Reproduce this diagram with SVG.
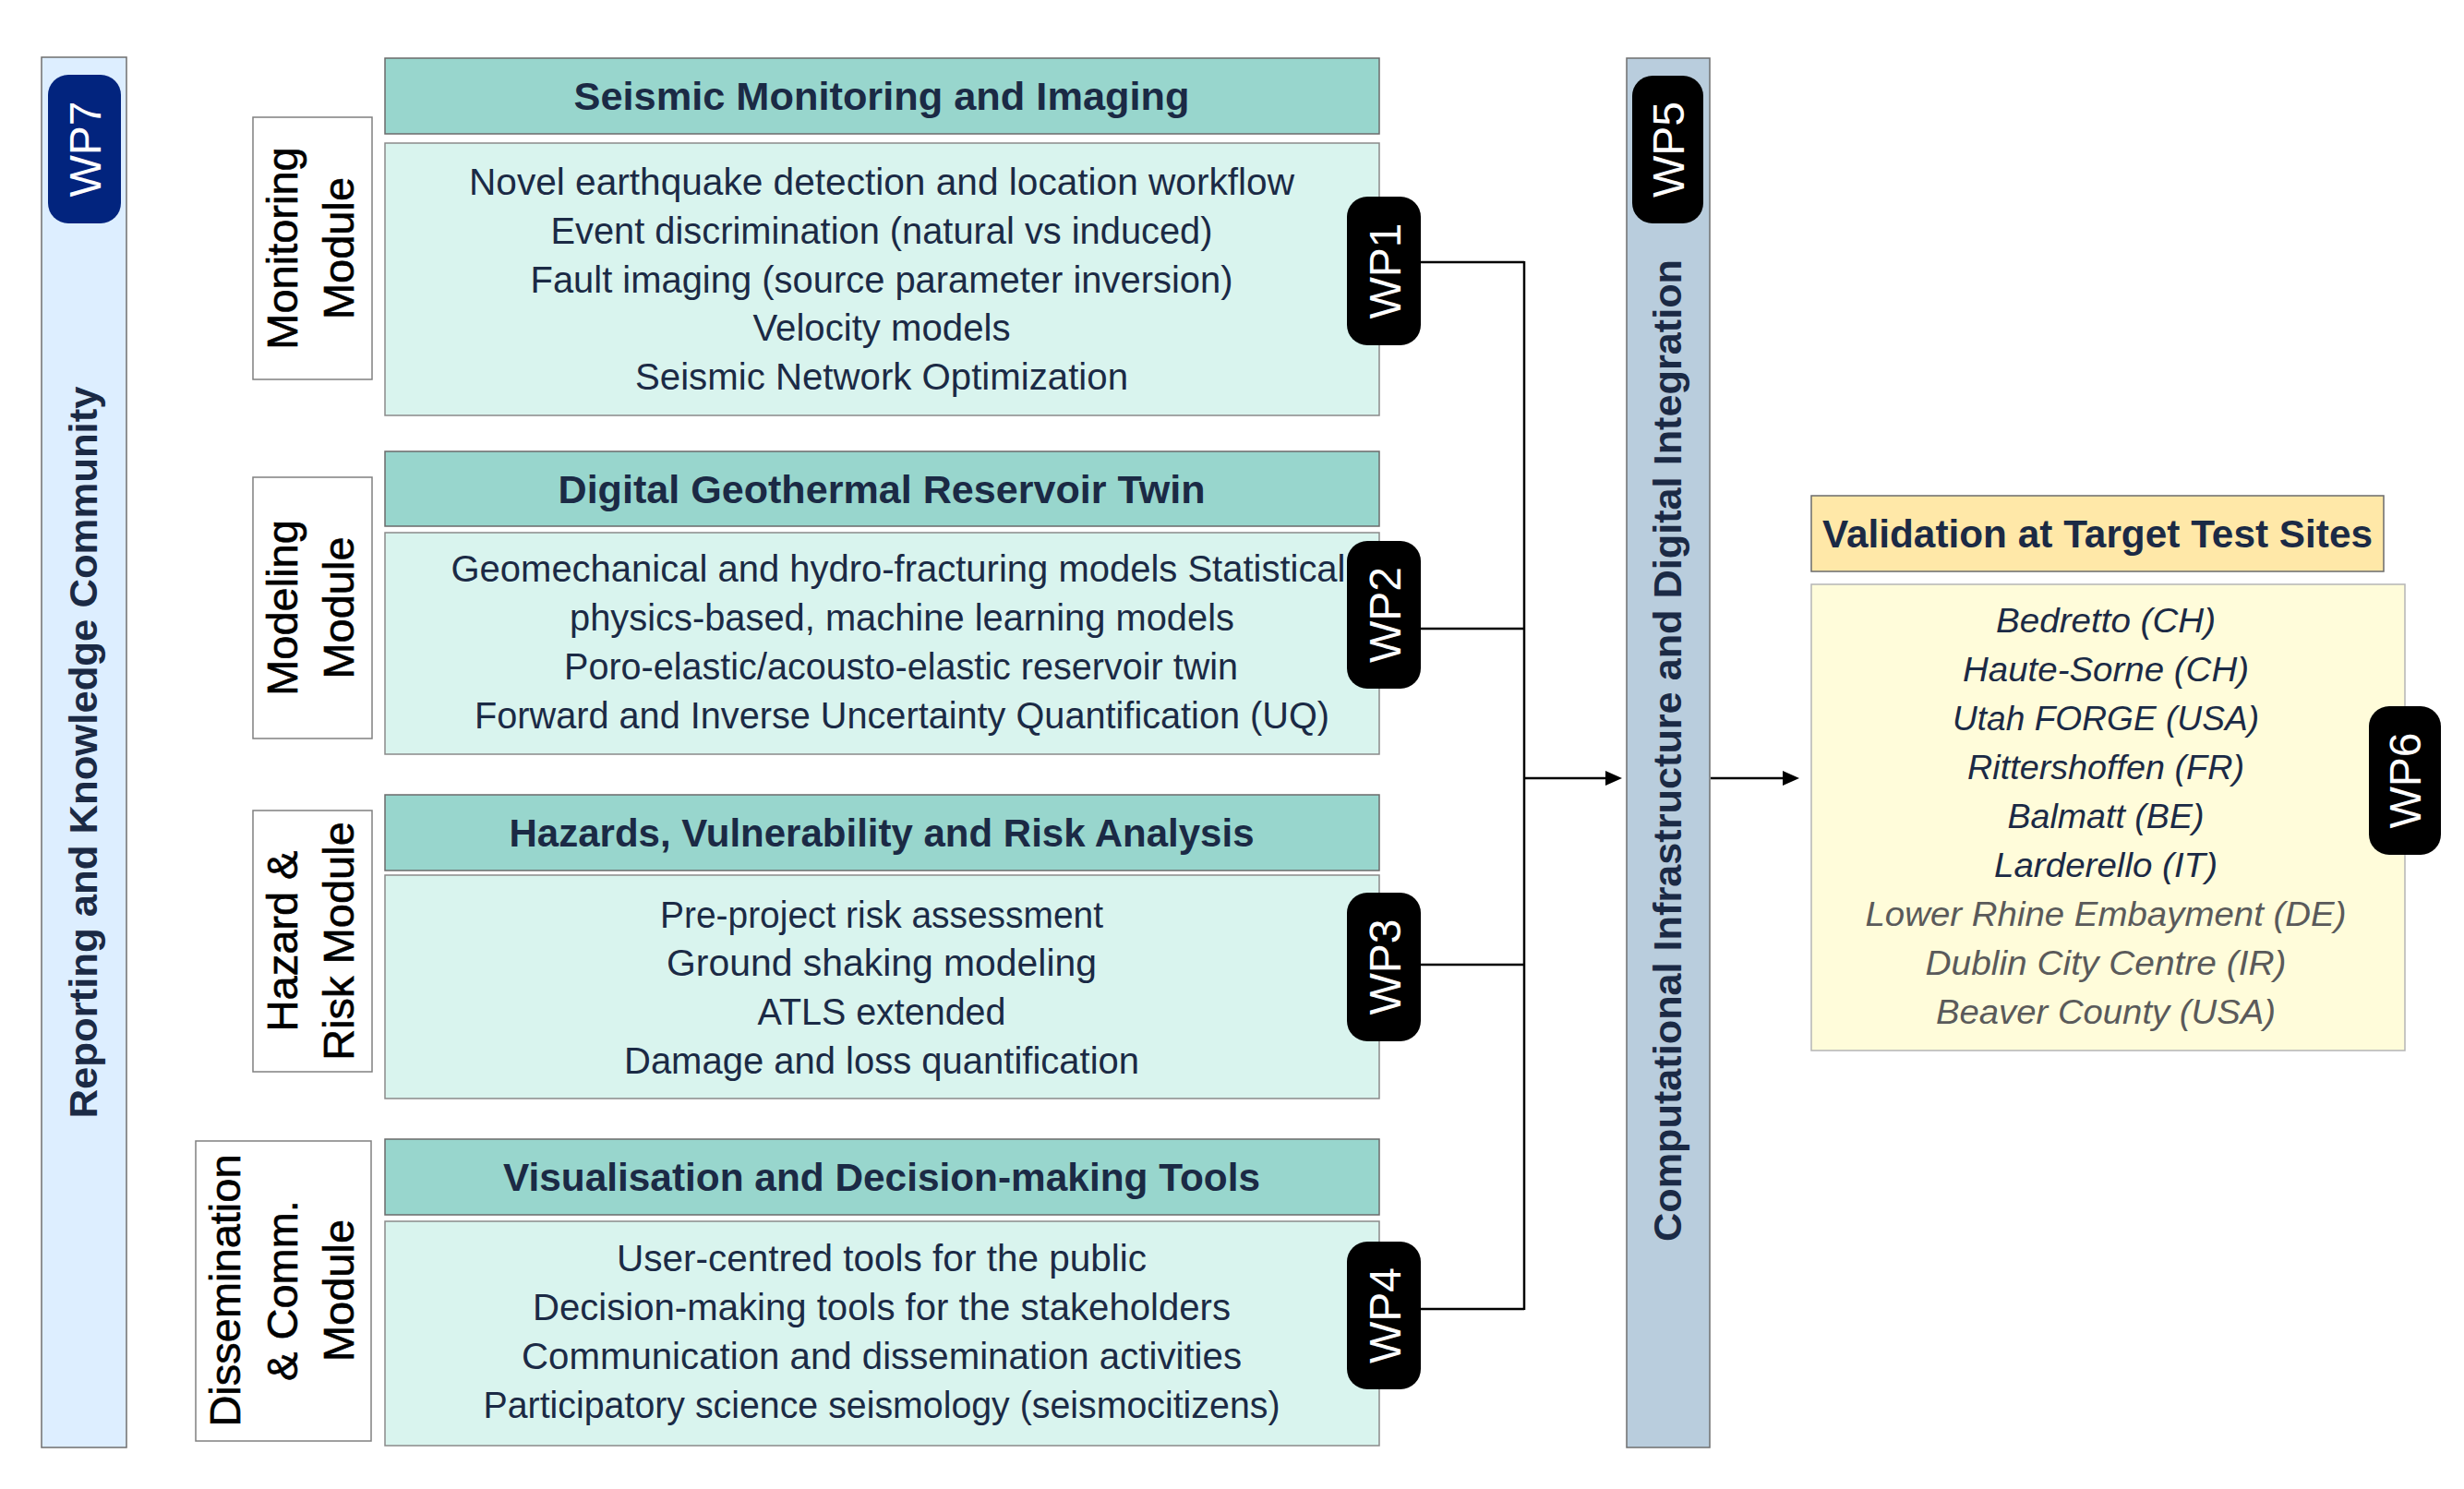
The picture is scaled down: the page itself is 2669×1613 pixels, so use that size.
<svg xmlns="http://www.w3.org/2000/svg" width="2669" height="1613" viewBox="0 0 2669 1613">
  <defs>
    <style>
      .bar7 { fill: #DDEEFF; stroke: #6f6f6f; stroke-width: 1.5; }
      .bar5 { fill: #B9CDDD; stroke: #6f6f6f; stroke-width: 1.5; }
      .hdr { fill: #98D6CD; stroke: #6b6b6b; stroke-width: 1.5; }
      .bdy { fill: #D9F4EE; stroke: #8a8a8a; stroke-width: 1.5; }
      .mod { fill: #FFFFFF; stroke: #808080; stroke-width: 1.5; }
      .vhdr { fill: #FFE8A8; stroke: #6b6b6b; stroke-width: 1.5; }
      .vbdy { fill: #FFFCDA; stroke: #b5b5b5; stroke-width: 1.5; }
      .badge { fill: #000000; }
      .badge7 { fill: #02247E; }
      .wp { font-family: "Liberation Sans", Arial, sans-serif; font-size: 48px; fill: #FFFFFF; text-anchor: middle; }
      .ht { font-family: "Liberation Sans", Arial, sans-serif; font-weight: bold; font-size: 42px; fill: #1B2A45; text-anchor: middle; }
      .bt { font-family: "Liberation Sans", Arial, sans-serif; font-size: 40px; fill: #1B2A45; text-anchor: middle; }
      .ml { font-family: "Liberation Sans", Arial, sans-serif; font-size: 47px; fill: #000000; stroke: #000000; stroke-width: 0.6; text-anchor: middle; }
      .vt { font-family: "Liberation Sans", Arial, sans-serif; font-weight: bold; font-size: 43px; fill: #1B2A45; text-anchor: middle; }
      .st { font-family: "Liberation Sans", Arial, sans-serif; font-style: italic; font-size: 37px; fill: #1B2A45; text-anchor: middle; }
      .sg { fill: #5A5A5A; }
      .conn { fill: none; stroke: #000000; stroke-width: 2.5; }
    </style>
    <marker id="arrow" markerUnits="userSpaceOnUse" markerWidth="18" markerHeight="16" refX="8" refY="8" orient="auto">
      <path d="M0,0 L18,8 L0,16 z" fill="#000000"/>
    </marker>
  </defs>

  <rect width="2669" height="1613" fill="#FFFFFF"/>

  <!-- WP7 reporting bar -->
  <g id="wp7">
    <rect class="bar7" x="45" y="62" width="92" height="1506"/>
    <rect class="badge7" x="52" y="81" width="79" height="161" rx="22"/>
    <text class="wp" transform="translate(109,161.5) rotate(-90)">WP7</text>
    <text class="vt" transform="translate(105,815) rotate(-90)" textLength="793" lengthAdjust="spacingAndGlyphs">Reporting and Knowledge Community</text>
  </g>

  <!-- Connectors -->
  <g id="connectors">
    <path class="conn" d="M1539 284 H1651 M1539 681 H1651 M1539 1045 H1651 M1539 1418 H1651 M1651 283 V1419"/>
    <line class="conn" x1="1651" y1="843" x2="1747" y2="843" marker-end="url(#arrow)"/>
    <line class="conn" x1="1853" y1="843" x2="1939" y2="843" marker-end="url(#arrow)"/>
  </g>

  <!-- WP1 Monitoring -->
  <g id="wp1">
    <rect class="mod" x="274" y="127" width="129" height="284"/>
    <text class="ml" transform="translate(322,269) rotate(-90)">Monitoring</text>
    <text class="ml" transform="translate(383,269) rotate(-90)">Module</text>
    <rect class="hdr" x="417" y="63" width="1077" height="82"/>
    <text class="ht" x="955" y="119" textLength="667" lengthAdjust="spacingAndGlyphs">Seismic Monitoring and Imaging</text>
    <rect class="bdy" x="417" y="155" width="1077" height="295"/>
    <text class="bt" x="955" y="211" textLength="894" lengthAdjust="spacingAndGlyphs">Novel earthquake detection and location workflow</text>
    <text class="bt" x="955" y="264" textLength="717" lengthAdjust="spacingAndGlyphs">Event discrimination (natural vs induced)</text>
    <text class="bt" x="955" y="317" textLength="761" lengthAdjust="spacingAndGlyphs">Fault imaging (source parameter inversion)</text>
    <text class="bt" x="955" y="369" textLength="279" lengthAdjust="spacingAndGlyphs">Velocity models</text>
    <text class="bt" x="955" y="422" textLength="534" lengthAdjust="spacingAndGlyphs">Seismic Network Optimization</text>
    <rect class="badge" x="1459" y="213" width="80" height="161" rx="22"/>
    <text class="wp" transform="translate(1517,293.5) rotate(-90)">WP1</text>
  </g>

  <!-- WP2 Modeling -->
  <g id="wp2">
    <rect class="mod" x="274" y="517" width="129" height="283"/>
    <text class="ml" transform="translate(322,658.5) rotate(-90)">Modeling</text>
    <text class="ml" transform="translate(383,658.5) rotate(-90)">Module</text>
    <rect class="hdr" x="417" y="489" width="1077" height="81"/>
    <text class="ht" x="955" y="545" textLength="701" lengthAdjust="spacingAndGlyphs">Digital Geothermal Reservoir Twin</text>
    <rect class="bdy" x="417" y="577" width="1077" height="240"/>
    <text class="bt" x="973" y="630" textLength="969" lengthAdjust="spacingAndGlyphs">Geomechanical and hydro-fracturing models Statistical</text>
    <text class="bt" x="977" y="683" textLength="720" lengthAdjust="spacingAndGlyphs">physics-based, machine learning models</text>
    <text class="bt" x="976" y="736" textLength="730" lengthAdjust="spacingAndGlyphs">Poro-elastic/acousto-elastic reservoir twin</text>
    <text class="bt" x="977" y="789" textLength="926" lengthAdjust="spacingAndGlyphs">Forward and Inverse Uncertainty Quantification (UQ)</text>
    <rect class="badge" x="1459" y="586" width="80" height="160" rx="22"/>
    <text class="wp" transform="translate(1517,666) rotate(-90)">WP2</text>
  </g>

  <!-- WP3 Hazard & Risk -->
  <g id="wp3">
    <rect class="mod" x="274" y="878" width="129" height="283"/>
    <text class="ml" transform="translate(322,1019.5) rotate(-90)">Hazard &amp;</text>
    <text class="ml" transform="translate(383,1019.5) rotate(-90)">Risk Module</text>
    <rect class="hdr" x="417" y="861" width="1077" height="82"/>
    <text class="ht" x="955" y="917" textLength="807" lengthAdjust="spacingAndGlyphs">Hazards, Vulnerability and Risk Analysis</text>
    <rect class="bdy" x="417" y="948" width="1077" height="242"/>
    <text class="bt" x="955" y="1005" textLength="480" lengthAdjust="spacingAndGlyphs">Pre-project risk assessment</text>
    <text class="bt" x="955" y="1057" textLength="466" lengthAdjust="spacingAndGlyphs">Ground shaking modeling</text>
    <text class="bt" x="955" y="1110" textLength="269" lengthAdjust="spacingAndGlyphs">ATLS extended</text>
    <text class="bt" x="955" y="1163" textLength="558" lengthAdjust="spacingAndGlyphs">Damage and loss quantification</text>
    <rect class="badge" x="1459" y="967" width="80" height="161" rx="22"/>
    <text class="wp" transform="translate(1517,1047.5) rotate(-90)">WP3</text>
  </g>

  <!-- WP4 Dissemination -->
  <g id="wp4">
    <rect class="mod" x="212" y="1236" width="190" height="325"/>
    <text class="ml" transform="translate(260,1398) rotate(-90)">Dissemination</text>
    <text class="ml" transform="translate(322,1398) rotate(-90)">&amp; Comm.</text>
    <text class="ml" transform="translate(383,1398) rotate(-90)">Module</text>
    <rect class="hdr" x="417" y="1234" width="1077" height="82"/>
    <text class="ht" x="955" y="1290" textLength="820" lengthAdjust="spacingAndGlyphs">Visualisation and Decision-making Tools</text>
    <rect class="bdy" x="417" y="1323" width="1077" height="243"/>
    <text class="bt" x="955" y="1377" textLength="574" lengthAdjust="spacingAndGlyphs">User-centred tools for the public</text>
    <text class="bt" x="955" y="1430" textLength="756" lengthAdjust="spacingAndGlyphs">Decision-making tools for the stakeholders</text>
    <text class="bt" x="955" y="1483" textLength="780" lengthAdjust="spacingAndGlyphs">Communication and dissemination activities</text>
    <text class="bt" x="955" y="1536" textLength="863" lengthAdjust="spacingAndGlyphs">Participatory science seismology (seismocitizens)</text>
    <rect class="badge" x="1459" y="1345" width="80" height="160" rx="22"/>
    <text class="wp" transform="translate(1517,1425) rotate(-90)">WP4</text>
  </g>

  <!-- WP5 computational bar -->
  <g id="wp5">
    <rect class="bar5" x="1762" y="63" width="90" height="1505"/>
    <rect class="badge" x="1768" y="82" width="77" height="160" rx="22"/>
    <text class="wp" transform="translate(1824,162) rotate(-90)">WP5</text>
    <text class="vt" transform="translate(1821,813) rotate(-90)" textLength="1064" lengthAdjust="spacingAndGlyphs">Computational Infrastructure and Digital Integration</text>
  </g>

  <!-- WP6 validation -->
  <g id="wp6">
    <rect class="vhdr" x="1962" y="537" width="620" height="82"/>
    <text class="ht" x="2272" y="593" textLength="596" lengthAdjust="spacingAndGlyphs">Validation at Target Test Sites</text>
    <rect class="vbdy" x="1962" y="633" width="643" height="505"/>
    <text class="st" x="2281" y="685" textLength="238" lengthAdjust="spacingAndGlyphs">Bedretto (CH)</text>
    <text class="st" x="2281" y="738" textLength="310" lengthAdjust="spacingAndGlyphs">Haute-Sorne (CH)</text>
    <text class="st" x="2281" y="791" textLength="332" lengthAdjust="spacingAndGlyphs">Utah FORGE (USA)</text>
    <text class="st" x="2281" y="844" textLength="300" lengthAdjust="spacingAndGlyphs">Rittershoffen (FR)</text>
    <text class="st" x="2281" y="897" textLength="213" lengthAdjust="spacingAndGlyphs">Balmatt (BE)</text>
    <text class="st" x="2281" y="950" textLength="242" lengthAdjust="spacingAndGlyphs">Larderello (IT)</text>
    <text class="st sg" x="2281" y="1003" textLength="521" lengthAdjust="spacingAndGlyphs">Lower Rhine Embayment (DE)</text>
    <text class="st sg" x="2281" y="1056" textLength="391" lengthAdjust="spacingAndGlyphs">Dublin City Centre (IR)</text>
    <text class="st sg" x="2281" y="1109" textLength="368" lengthAdjust="spacingAndGlyphs">Beaver County (USA)</text>
    <rect class="badge" x="2566" y="765" width="78" height="161" rx="22"/>
    <text class="wp" transform="translate(2622,845.5) rotate(-90)">WP6</text>
  </g>
</svg>
